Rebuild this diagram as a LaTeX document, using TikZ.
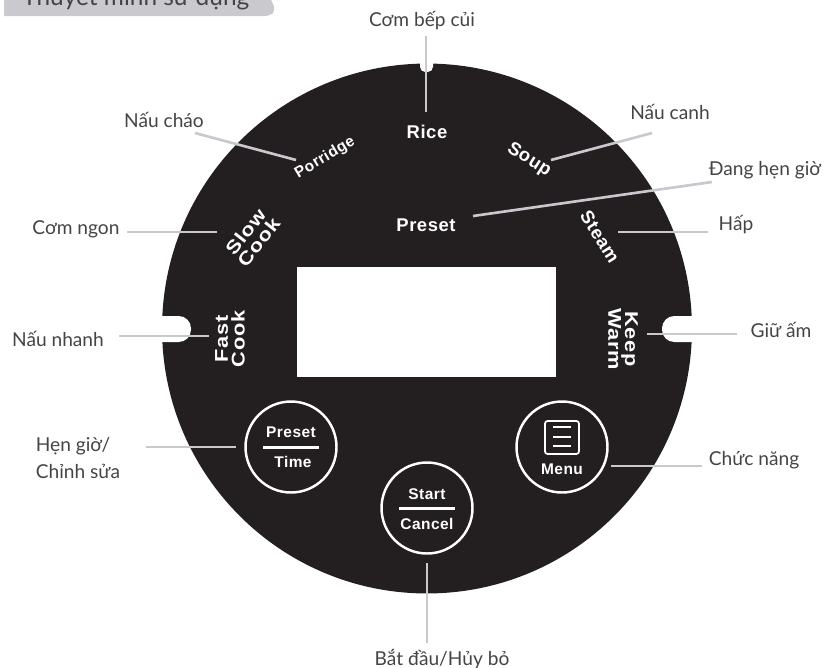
\documentclass[tikz,border=0pt]{standalone}
\usepackage{fontspec}
\setmainfont{Lato}
\newfontfamily\panelfont[LetterSpace=3]{Liberation Sans}
\newfontfamily\widefont[LetterSpace=4,FakeStretch=1.18]{Liberation Sans}
\definecolor{panelblack}{HTML}{231F20}
\definecolor{leadgray}{HTML}{C8C8CE}
\definecolor{headgray}{HTML}{C9C9CE}
\definecolor{captgray}{HTML}{444444}
\usetikzlibrary{calc,positioning}

\begin{document}
\begin{tikzpicture}[x=0.02cm,y=-0.02cm,
		capt/.style={text=captgray,font=\fontsize{10.9}{15}\selectfont,align=left,inner sep=0pt},
		paneltext/.style={text=white,font=\panelfont\bfseries\fontsize{10.5}{9.5}\selectfont,align=center,inner sep=0pt},
		widetext/.style={paneltext,font=\widefont\bfseries\fontsize{10.5}{9.5}\selectfont},
		smalltext/.style={paneltext,font=\panelfont\bfseries\fontsize{8.8}{10}\selectfont},
		btn/.style={draw=white,circle,line width=1.4pt,fill=panelblack,minimum size=1.82cm,inner sep=0pt},
		leadline/.style={draw=leadgray,line width=1.5pt}]
	\useasboundingbox (0,0) rectangle (827,667);
	
	% Header tab
	\fill[headgray] (4,-12) -- (265,-12) [rounded corners=3pt] -- (276,10) -- (270,16) [sharp corners] -- (4,16) -- cycle;
	\node[capt,font=\fontsize{13.9}{14}\selectfont,anchor=base west] (head) at (22,5) {Thuyết minh sử dụng};
	
	% Panel
	\node[circle,fill=panelblack,minimum size=10.6cm,inner sep=0pt] (disc) at (427,328.5) {};
	\fill[white,rounded corners=7pt] (140,316) -- (191,316) -- (191,342) -- (140,342) -- cycle;
	\fill[white,rounded corners=7pt] (662,316) -- (710,316) -- (710,342) -- (662,342) -- cycle;
	\fill[white,rounded corners=3pt] (420,50) -- (433,50) -- (433,72) -- (420,72) -- cycle;
	\node[fill=white,minimum width=5.18cm,minimum height=2.2cm,inner sep=0pt] (display) at (426.5,322) {};
	
	% Panel words
	\node[paneltext] (rice) at (427,132) {Rice};
	\node[paneltext] (preset) at (426,225) {Preset};
	\node[paneltext,rotate=-32] (soup) at (529,160) {Soup};
	\node[paneltext,rotate=-58] (steam) at (600,237) {Steam};
	\node[smalltext,rotate=31] (porridge) at (325,158) {Porridge};
	\node[widetext,rotate=52] (slow) at (252,237) {Slow\\Cook};
	\node[widetext,rotate=90] (fast) at (230,339) {Fast\\Cook};
	\node[widetext,rotate=-90] (keep) at (623,339) {Keep\\Warm};
	
	% Buttons
	\node[btn] (btnA) at (291,447) {};
	\node[btn] (btnB) at (427,508) {};
	\node[btn] (btnC) at (562,447) {};
	\node[smalltext] (presetb) at (291,432) {Preset};
	\node[smalltext] (time) at (293,462) {Time};
	\draw[white,line width=1.7pt] (263,447) -- (319,447);
	\node[smalltext] (start) at (427,494) {Start};
	\node[smalltext] (cancel) at (427,524) {Cancel};
	\draw[white,line width=1.7pt] (399,508) -- (455,508);
	\draw[white,line width=1pt,rounded corners=1.5pt] (545,421) rectangle (579,454);
	\foreach \y in {427,437,446}
		\draw[white,line width=0.9pt] (553,\y) -- (571,\y);
	\node[smalltext] (menu) at (562,469) {Menu};
	
	% Captions
	\node[capt] (lRice) at (422,21) {Cơm bếp củi};
	\node[capt] (lPorridge) at (164,120) {Nấu cháo};
	\node[capt] (lSoup) at (670,112) {Nấu canh};
	\node[capt] (lPreset) at (765,170) {Đang hẹn giờ};
	\node[capt] (lSteam) at (736,225) {Hấp};
	\node[capt] (lSlow) at (76,229) {Cơm ngon};
	\node[capt] (lFast) at (58,339) {Nấu nhanh};
	\node[capt] (lKeep) at (781,330) {Giữ ấm};
	\node[capt] (lTime) at (78,458) {Hẹn giờ/\\Chỉnh sửa};
	\node[capt] (lMenu) at (754,460) {Chức năng};
	\node[capt] (lStart) at (442,659) {Bắt đầu/Hủy bỏ};
	
	% Leader ends
	\coordinate (a1) at (426,36);   \coordinate (b1) at (426,112);
	\coordinate (a2) at (195,133);  \coordinate (b2) at (296,160);
	\coordinate (a3) at (652,133);  \coordinate (b3) at (551,160);
	\coordinate (a4) at (712,182);  \coordinate (b4) at (473,216);
	\coordinate (a5) at (708,232);  \coordinate (b5) at (618,232);
	\coordinate (a6) at (127,232);  \coordinate (b6) at (217,232);
	\coordinate (a7) at (119,336);  \coordinate (b7) at (209,336);
	\coordinate (a8) at (737,334);  \coordinate (b8) at (647,334);
	\coordinate (a9) at (146,447);  \coordinate (b9) at (236,447);
	\coordinate (a10) at (702,466); \coordinate (b10) at (611,466);
	\coordinate (a11) at (427,643); \coordinate (b11) at (427,563);
	\foreach \i in {1,...,11}
		\draw[leadline] (a\i) -- (b\i);
\end{tikzpicture}
\end{document}
